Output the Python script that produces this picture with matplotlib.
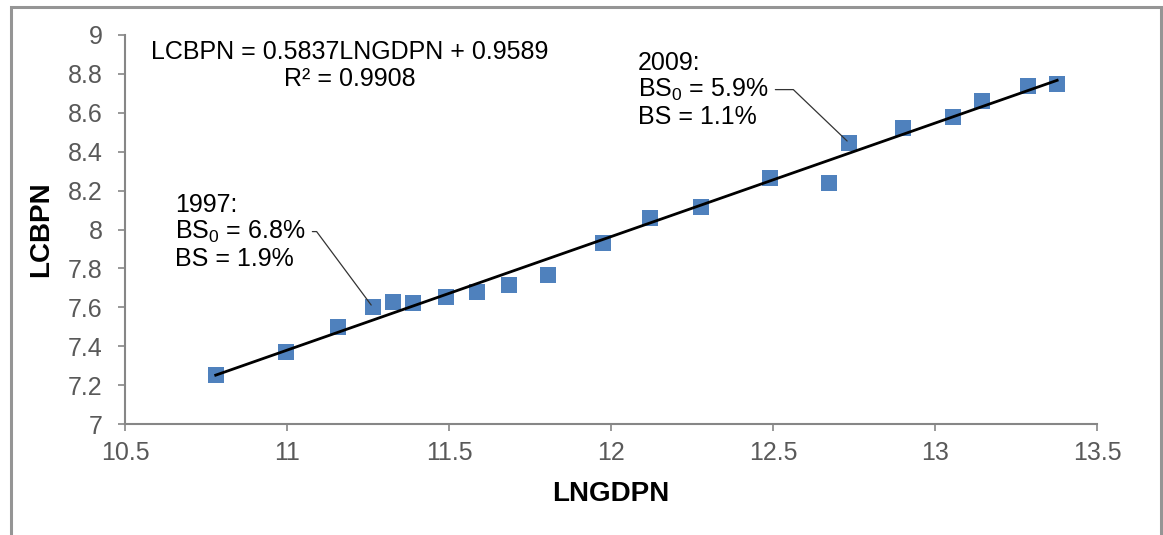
import matplotlib
matplotlib.use("Agg")
import matplotlib.pyplot as plt
from matplotlib.patches import Rectangle
import numpy as np

plt.rcParams['font.family'] = ['Liberation Sans', 'DejaVu Sans']
plt.rcParams['mathtext.fontset'] = 'custom'
plt.rcParams['mathtext.rm'] = 'Liberation Sans'
plt.rcParams['mathtext.it'] = 'Liberation Sans:italic'

# ---- data ----
lngdpn = [10.78, 10.997, 11.157, 11.265, 11.327, 11.389, 11.49, 11.587, 11.685,
          11.806, 11.975, 12.12, 12.278, 12.49, 12.673, 12.735, 12.90, 13.056,
          13.145, 13.287, 13.377]
lcbpn = [7.25, 7.37, 7.50, 7.60, 7.627, 7.622, 7.653, 7.68, 7.715,
         7.766, 7.93, 8.06, 8.116, 8.265, 8.24, 8.445, 8.52, 8.578,
         8.66, 8.738, 8.748]
slope = 0.5837
intercept = 0.9589
r2 = 0.9908
x_ticks = [10.5, 11, 11.5, 12, 12.5, 13, 13.5]
y_ticks = [7, 7.2, 7.4, 7.6, 7.8, 8, 8.2, 8.4, 8.6, 8.8, 9]
x_tick_labels = ["10.5", "11", "11.5", "12", "12.5", "13", "13.5"]
y_tick_labels = ["7", "7.2", "7.4", "7.6", "7.8", "8", "8.2", "8.4", "8.6", "8.8", "9"]
ann_1997 = "1997:\nBS$_0$ = 6.8%\nBS = 1.9%"
ann_2009 = "2009:\nBS$_0$ = 5.9%\nBS = 1.1%"
idx_1997 = 3
idx_2009 = 15

fig = plt.figure(figsize=(11.63, 5.35), dpi=100)
ax = fig.add_axes([125/1163, 1-424/535, (1097-125)/1163, (424-35)/535])

# figure frame
fig.patches.append(Rectangle((11/1163, -0.05), (1161-11)/1163, 1.05 - 7/535,
                             transform=fig.transFigure, fill=False,
                             edgecolor='#959595', linewidth=2.2, zorder=0))

ax.scatter(lngdpn, lcbpn, marker='s', s=135, color='#4F81BD', zorder=2, linewidths=0)
xl = np.array([min(lngdpn), max(lngdpn)])
ax.plot(xl, slope*xl + intercept, color='black', lw=2, zorder=3)

ax.set_xlim(10.5, 13.5)
ax.set_ylim(7, 9)
ax.set_xticks(x_ticks)
ax.set_xticklabels(x_tick_labels)
ax.set_yticks(y_ticks)
ax.set_yticklabels(y_tick_labels)
for s in ['top', 'right']:
    ax.spines[s].set_visible(False)
for s in ['left', 'bottom']:
    ax.spines[s].set_color('#868686')
    ax.spines[s].set_linewidth(1.5)
ax.tick_params(axis='both', direction='out', length=5, width=1.2, color='#868686',
               labelsize=18, labelcolor='#595959')
ax.tick_params(axis='x', pad=7)
ax.tick_params(axis='y', pad=11)

ax.set_xlabel("LNGDPN", fontsize=20, fontweight='bold', labelpad=12)
ax.set_ylabel("LCBPN", fontsize=20, fontweight='bold', labelpad=10)

ax.text(11.194, 8.975, f"LCBPN = {slope}LNGDPN + {intercept}\nR² = {r2}",
        ha='center', va='top', multialignment='center', fontsize=18, linespacing=1.15)

ax.annotate(ann_1997, xy=(lngdpn[idx_1997], lcbpn[idx_1997]),
            xytext=(10.654, 8.19), textcoords='data', ha='left', va='top',
            fontsize=18, linespacing=1.1,
            arrowprops=dict(arrowstyle='-', color='#333333', lw=0.9,
                            connectionstyle='angle,angleA=0,angleB=126.6,rad=0',
                            relpos=(1, 0.5), shrinkA=3, shrinkB=2))
ax.annotate(ann_2009, xy=(lngdpn[idx_2009], lcbpn[idx_2009]),
            xytext=(12.083, 8.92), textcoords='data', ha='left', va='top',
            fontsize=18, linespacing=1.1,
            arrowprops=dict(arrowstyle='-', color='#333333', lw=0.9,
                            connectionstyle='angle,angleA=0,angleB=136.3,rad=0',
                            relpos=(1, 0.5), shrinkA=3, shrinkB=2))

fig.savefig("out.png", dpi=100)
